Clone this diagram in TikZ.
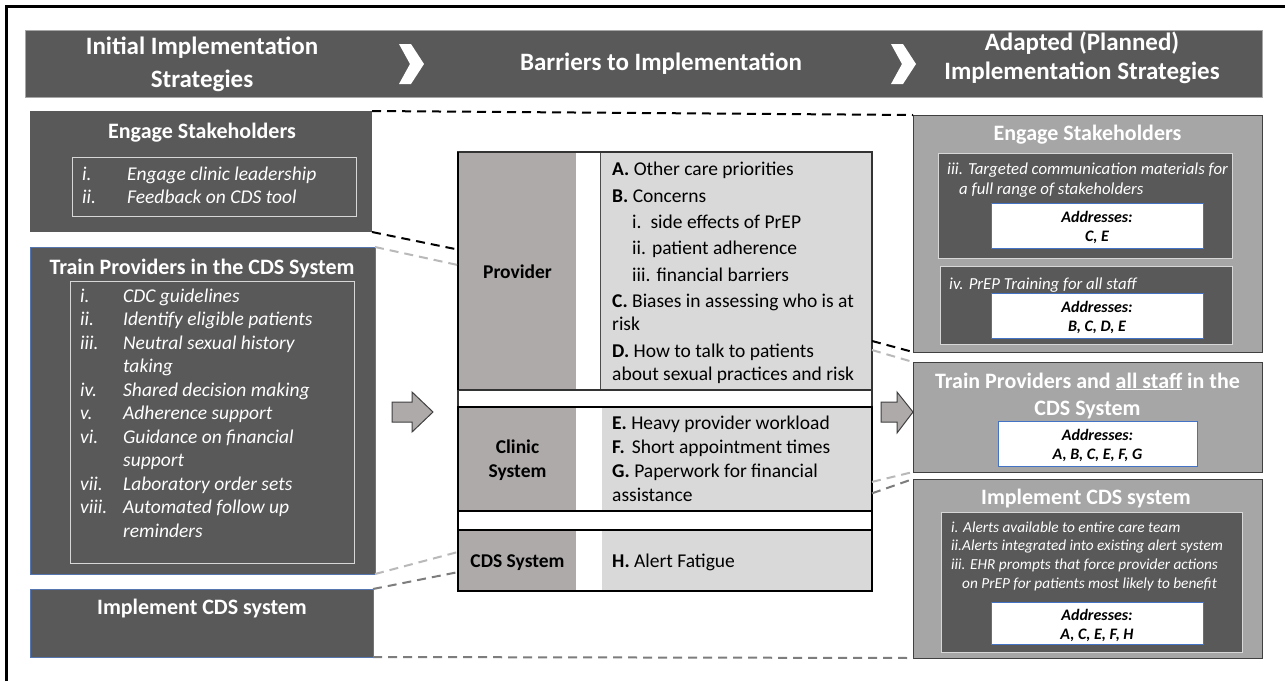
\documentclass[tikz,border=0pt]{standalone}
\usepackage{fontspec}
\setmainfont{Carlito}
\usetikzlibrary{calc}

\definecolor{darkfill}{RGB}{89,89,89}
\definecolor{midfill}{RGB}{166,166,166}
\definecolor{labelfill}{RGB}{174,170,170}
\definecolor{cellfill}{RGB}{217,217,217}
\definecolor{edgeblue}{RGB}{68,114,196}
\definecolor{dashlight}{RGB}{185,185,185}
\definecolor{dashmid}{RGB}{125,125,125}
\definecolor{inneredge}{RGB}{215,215,215}

% rectangle node given by its corners (x1,y1) and (x2,y2)
\newcommand\mkpanel[6]{%
  \node[#2, anchor=north west, inner sep=0pt, outer sep=0pt,
        minimum width={(#5-#3)*1pt}, minimum height={(#6-#4)*1pt}] (#1) at (#3,#4) {};}

\begin{document}
\begin{tikzpicture}[x=1pt,y=-1pt,
  darkbox/.style={fill=darkfill},
  bluebox/.style={fill=darkfill, draw=edgeblue!70!gray, line width=1pt},
  greybox/.style={fill=midfill, draw=black!75, line width=1pt},
  innerbox/.style={fill=darkfill, draw=inneredge, line width=1pt},
  outlinebox/.style={draw=inneredge, line width=1pt},
  addrbox/.style={fill=white, draw=edgeblue, line width=1pt},
  bannertxt/.style={text=white, align=center, inner sep=0pt,
    font={\fontsize{25}{29}\selectfont\bfseries}},
  titletxt/.style={text=white, align=center, inner sep=0pt, anchor=base,
    font={\fontsize{22}{27}\selectfont\bfseries}},
  listtxt/.style={text=white, inner sep=0pt, anchor=base west,
    font={\fontsize{19.5}{23.5}\selectfont\itshape}},
  smalltxt/.style={text=white, inner sep=0pt, anchor=base west,
    font={\fontsize{16.8}{19}\selectfont\itshape}},
  tinytxt/.style={text=white, inner sep=0pt, anchor=base west,
    font={\fontsize{15.3}{18}\selectfont\itshape}},
  addrtxt/.style={text=black, align=center, inner sep=0pt,
    font={\fontsize{16}{19}\selectfont\bfseries\itshape}},
  celltxt/.style={text=black, inner sep=0pt, anchor=base west,
    font={\fontsize{19.5}{23.5}\selectfont}},
  labeltxt/.style={text=black, inner sep=0pt, anchor=base,
    font={\fontsize{19.5}{23.5}\selectfont\bfseries}},
  blackdash/.style={draw=black, line width=2pt, dash pattern=on 9pt off 6pt},
  lightdash/.style={draw=dashlight, line width=2pt, dash pattern=on 9pt off 6pt},
  middash/.style={draw=dashmid, line width=2pt, dash pattern=on 9pt off 6pt},
  blockarrow/.style={fill=labelfill, draw=black!75, line width=1pt, line join=miter}
]
\useasboundingbox (0,0) rectangle (1285,681);
\fill[white] (0,0) rectangle (1285,681);

% frame lines
\draw[line width=3pt] (6.5,681) -- (6.5,6.5) -- (1285,6.5);

% ---------------- header banner ----------------
\mkpanel{banner}{fill=darkfill, draw=black!35, line width=1pt}{25}{30}{1262}{97}
\foreach \cx in {399,891}{
  \fill[white] (\cx,44) -- (\cx+12,44) -- (\cx+25,64) -- (\cx+12,84)
               -- (\cx,84) -- (\cx+11,64) -- cycle;}
\node[bannertxt, font={\fontsize{25}{33}\selectfont\bfseries}] (hleft) at (202,64)
  {Initial Implementation\\Strategies};
\node[bannertxt] (hmid) at (661,64) {Barriers to Implementation};
\node[bannertxt] (hright) at (1082,58) {Adapted (Planned)\\Implementation Strategies};

% ---------------- initial strategies (left) ----------------
\mkpanel{lengage}{darkbox}{30}{111}{372}{232}
\mkpanel{lengagein}{outlinebox}{72}{157}{356}{216}
\node[titletxt] (lengaget) at (202,138) {Engage Stakeholders};
\node[listtxt] (lengagel) at (82,180) {\begin{tabular}[t]{@{}p{45pt}@{}l@{}}
  i. & Engage clinic leadership\\
  ii. & Feedback on CDS tool
\end{tabular}};

\mkpanel{ltrain}{bluebox}{30}{247}{375}{574}
\mkpanel{ltrainin}{outlinebox}{70}{281}{354}{563}
\node[titletxt] (ltraint) at (202,274) {Train Providers in the CDS System};
\node[listtxt] (ltrainl) at (80,302) {\begin{tabular}[t]{@{}p{43pt}@{}l@{}}
  i. & CDC guidelines\\
  ii. & Identify eligible patients\\
  iii. & Neutral sexual history\\
       & taking\\
  iv. & Shared decision making\\
  v. & Adherence support\\
  vi. & Guidance on financial\\
      & support\\
  vii. & Laboratory order sets\\
  viii. & Automated follow up\\
        & reminders
\end{tabular}};

\mkpanel{limpl}{bluebox}{30}{589}{373}{657}
\node[titletxt] (limplt) at (202,614) {Implement CDS system};

% ---------------- block arrows ----------------
\draw[blockarrow] (392,402) -- (412,402) -- (412,392) -- (433,412) -- (412,432)
  -- (412,422) -- (392,422) -- cycle;
\draw[blockarrow] (881,402) -- (897,402) -- (897,392) -- (913,412) -- (897,433)
  -- (897,422) -- (881,422) -- cycle;

% ---------------- barriers table (middle) ----------------
% cell fills
\fill[labelfill] (458,152) rectangle (576,390);
\fill[cellfill] (600,152) rectangle (872,390);
\fill[labelfill] (458,407) rectangle (576,511);
\fill[cellfill] (602,407) rectangle (872,511);
\fill[labelfill] (458,530) rectangle (576,591);
\fill[cellfill] (602,530) rectangle (872,591);
\draw[black!70, line width=1pt] (600,152) -- (600,390);
% row frames
\mkpanel{provider}{draw=black!80, line width=1.5pt}{458}{152}{872}{390}
\draw[black, line width=2.5pt] (provider.north west) -- (provider.south west);
\draw[black!80, line width=1.5pt] (458,390) -- (458,407) (872,390) -- (872,407);
\mkpanel{clinic}{draw=black, line width=2.5pt}{458}{407}{872}{511}
\mkpanel{cds}{draw=black, line width=2.5pt}{458}{530}{872}{591}
\draw[black, line width=1.5pt] (458,511) -- (458,530) (872,511) -- (872,530);

\node[labeltxt] (provlab) at (517.5,278) {Provider};
\node[labeltxt] (cliniclab) at (517.5,453) {Clinic};
\node[labeltxt] (systemlab) at (517.5,477) {System};
\node[labeltxt] (cdslab) at (517.5,567) {CDS System};

\node[celltxt] (pA) at (612,175) {\textbf{A.} Other care priorities};
\node[celltxt] (pB) at (612,202) {\textbf{B.} Concerns};
\node[celltxt] (pB1) at (632,228) {i.\hspace{9pt}side effects of PrEP};
\node[celltxt] (pB2) at (632,254) {ii.\hspace{6pt}patient adherence};
\node[celltxt] (pB3) at (632,281) {iii.\hspace{6pt}financial barriers};
\node[celltxt] (pC) at (612,307) {\textbf{C.} Biases in assessing who is at};
\node[celltxt] (pC2) at (612,330) {risk};
\node[celltxt] (pD) at (612,357) {\textbf{D.} How to talk to patients};
\node[celltxt] (pD2) at (612,380) {about sexual practices and risk};

\node[celltxt] (cE) at (612,429) {\textbf{E.} Heavy provider workload};
\node[celltxt] (cF) at (612,453) {\textbf{F.}\hspace{7pt}Short appointment times};
\node[celltxt] (cG) at (612,477) {\textbf{G.} Paperwork for financial};
\node[celltxt] (cG2) at (612,501) {assistance};
\node[celltxt] (dH) at (612,567) {\textbf{H.} Alert Fatigue};

% ---------------- adapted strategies (right) ----------------
\mkpanel{rengage}{greybox}{913}{115}{1262}{352}
\node[titletxt] (rengaget) at (1087.5,140) {Engage Stakeholders};
\mkpanel{rin1}{innerbox}{938}{153}{1232}{258}
\node[smalltxt] (r1a) at (947,174) {iii. Targeted communication materials for};
\node[smalltxt] (r1b) at (959,194) {a full range of stakeholders};
\mkpanel{a1}{addrbox}{991}{203}{1203}{248}
\node[addrtxt] (a1t) at ($(a1)+(0,2)$) {Addresses:\\C, E};
\mkpanel{rin2}{innerbox}{940}{266}{1232}{344}
\node[smalltxt] (r2a) at (949,289) {iv. PrEP Training for all staff};
\mkpanel{a2}{addrbox}{991}{293}{1203}{338}
\node[addrtxt] (a2t) at ($(a2)+(0,2)$) {Addresses:\\B, C, D, E};

\mkpanel{rtrain}{greybox}{913}{362}{1262}{472}
\node[titletxt] (rtraint) at (1087.5,388) {Train Providers and \underline{all staff} in the};
\node[titletxt] (rtraint2) at (1087.5,415) {CDS System};
\mkpanel{a3}{addrbox}{998}{421}{1197}{466}
\node[addrtxt] (a3t) at ($(a3)+(0,2)$) {Addresses:\\A, B, C, E, F, G};

\mkpanel{rimpl}{greybox}{913}{479}{1262}{658}
\node[titletxt] (rimplt) at (1086,504) {Implement CDS system};
\mkpanel{rin3}{innerbox}{941}{512}{1242}{652}
\node[tinytxt] (r3a) at (951,532) {i. Alerts available to entire care team};
\node[tinytxt] (r3b) at (951,550) {ii.Alerts integrated into existing alert system};
\node[tinytxt] (r3c) at (951,569) {iii. EHR prompts that force provider actions};
\node[tinytxt] (r3d) at (962,588) {on PrEP for patients most likely to benefit};
\mkpanel{a4}{addrbox}{991}{602}{1203}{644}
\node[addrtxt] (a4t) at ($(a4)+(0,2)$) {Addresses:\\A, C, E, F, H};

% ---------------- dashed links ----------------
\draw[blackdash] (lengage.north east) -- (rengage.north west);
\draw[blackdash] (lengage.south east) -- ($(provider.north west)!0.41!(provider.south west)$);
\draw[lightdash] (ltrain.north east) -- ($(provider.north west)!0.475!(provider.south west)$);
\draw[lightdash] (ltrain.south east) -- ($(cds.north west)!0.36!(cds.south west)$);
\draw[middash] (limpl.north east) -- ($(cds.north west)!0.69!(cds.south west)$);
\draw[middash] (limpl.south east) -- (rimpl.south west);
\draw[blackdash] ($(provider.north east)!0.794!(provider.south east)$) -- (rengage.south west);
\draw[lightdash] ($(provider.north east)!0.832!(provider.south east)$) -- (rtrain.north west);
\draw[lightdash] ($(clinic.north east)!0.72!(clinic.south east)$) -- (rtrain.south west);
\draw[middash] ($(clinic.north east)!0.83!(clinic.south east)$) -- (rimpl.north west);
\end{tikzpicture}
\end{document}
